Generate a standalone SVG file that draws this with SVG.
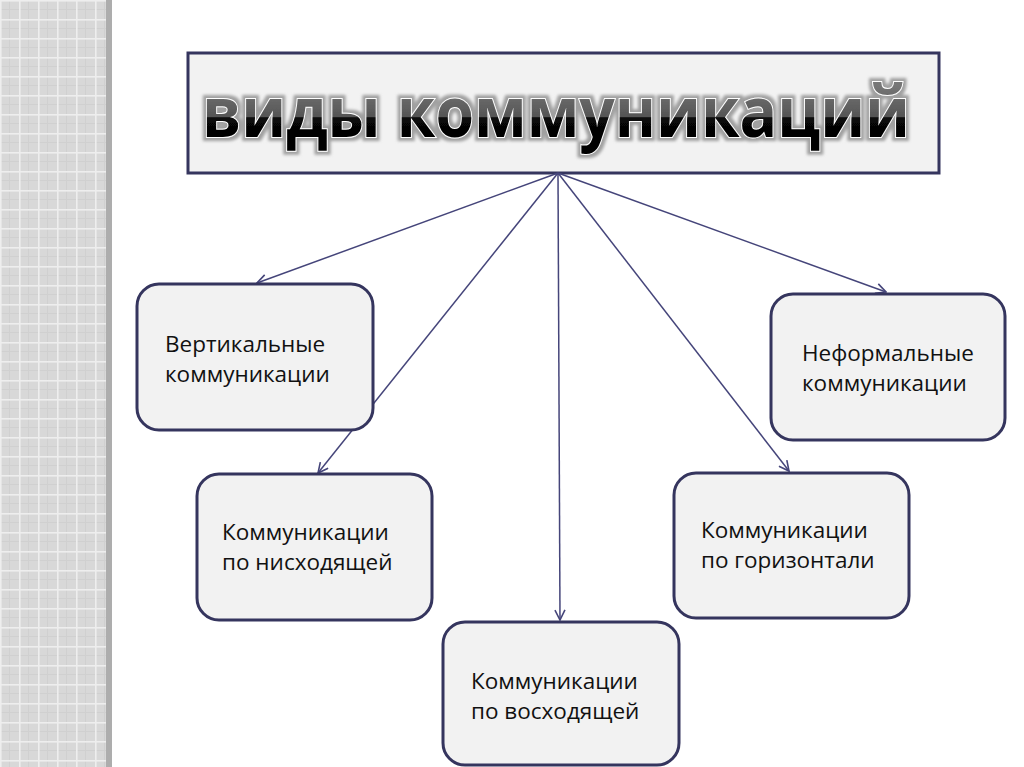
<svg xmlns="http://www.w3.org/2000/svg" width="1024" height="767" viewBox="0 0 1024 767">
  <defs>
    <pattern id="grid" x="0" y="0" width="19" height="19" patternUnits="userSpaceOnUse">
      <rect width="19" height="19" fill="#d8d8d8"/>
      <rect x="0" y="9" width="19" height="1" fill="#d0d0d0"/>
      <rect x="9" y="0" width="1" height="19" fill="#d0d0d0"/>
      <rect x="0" y="0" width="19" height="1.6" fill="#eeeeee"/>
      <rect x="0" y="0" width="1.6" height="19" fill="#eeeeee"/>
    </pattern>
    <linearGradient id="tgrad" gradientUnits="userSpaceOnUse" x1="0" y1="85" x2="0" y2="155">
      <stop offset="0" stop-color="#777777"/>
      <stop offset="0.45" stop-color="#555555"/>
      <stop offset="0.47" stop-color="#080808"/>
      <stop offset="1" stop-color="#000"/>
    </linearGradient>
    <filter id="glow" x="-10%" y="-50%" width="120%" height="200%">
      <feMorphology in="SourceAlpha" operator="dilate" radius="2.5" result="d"/>
      <feGaussianBlur in="d" stdDeviation="1.5" result="b"/>
      <feFlood flood-color="#a0a0a0"/>
      <feComposite in2="b" operator="in" result="halo"/>
      <feMerge><feMergeNode in="halo"/><feMergeNode in="SourceGraphic"/></feMerge>
    </filter>
    <marker id="arr" viewBox="0 0 12 12" refX="11" refY="6" markerWidth="12" markerHeight="12" markerUnits="userSpaceOnUse" orient="auto">
      <polyline points="1,1 11,6 1,11" fill="none" stroke="#45457a" stroke-width="1.6"/>
    </marker>
    <style>
      .box{fill:#f2f2f2;stroke:#35355e;stroke-width:3}
      .lbl{font-family:"Open Sans","Liberation Sans",sans-serif;font-size:22.5px;fill:#111}
      .con{stroke:#45457a;stroke-width:1.5;fill:none;marker-end:url(#arr)}
    </style>
  </defs>
  <rect width="1024" height="767" fill="#ffffff"/>
  <rect x="0" y="0" width="107" height="767" fill="url(#grid)"/>
  <rect x="106" y="0" width="6" height="767" fill="#adadad"/>

  <g id="title">
    <rect x="188" y="53" width="751" height="120" fill="#f2f2f2" stroke="#35355e" stroke-width="3"/>
    <text x="556" y="137" text-anchor="middle" textLength="708" lengthAdjust="spacingAndGlyphs" font-family="Open Sans, Liberation Sans, sans-serif" font-weight="bold" font-size="69" fill="url(#tgrad)" stroke="#ffffff" stroke-width="2" paint-order="stroke" filter="url(#glow)">виды коммуникаций</text>
  </g>

  <g id="connectors">
    <line class="con" x1="558" y1="173" x2="257" y2="283"/>
    <line class="con" x1="558" y1="173" x2="318" y2="473"/>
    <line class="con" x1="558" y1="173" x2="560" y2="620"/>
    <line class="con" x1="558" y1="173" x2="789" y2="471"/>
    <line class="con" x1="558" y1="173" x2="886" y2="292"/>
  </g>

  <g id="vertical">
    <rect class="box" x="137" y="284" width="236" height="146" rx="22"/>
    <text class="lbl" x="165" y="352">Вертикальные</text>
    <text class="lbl" x="165" y="382">коммуникации</text>
  </g>
  <g id="downward">
    <rect class="box" x="197" y="474" width="235" height="146" rx="22"/>
    <text class="lbl" x="222" y="540">Коммуникации</text>
    <text class="lbl" x="222" y="570">по нисходящей</text>
  </g>
  <g id="upward">
    <rect class="box" x="443" y="622" width="236" height="143" rx="22"/>
    <text class="lbl" x="471" y="689">Коммуникации</text>
    <text class="lbl" x="471" y="719">по восходящей</text>
  </g>
  <g id="horizontal">
    <rect class="box" x="674" y="473" width="235" height="145" rx="22"/>
    <text class="lbl" x="701" y="538">Коммуникации</text>
    <text class="lbl" x="701" y="568">по горизонтали</text>
  </g>
  <g id="informal">
    <rect class="box" x="771" y="294" width="234" height="146" rx="22"/>
    <text class="lbl" x="802" y="361">Неформальные</text>
    <text class="lbl" x="802" y="391">коммуникации</text>
  </g>
</svg>
